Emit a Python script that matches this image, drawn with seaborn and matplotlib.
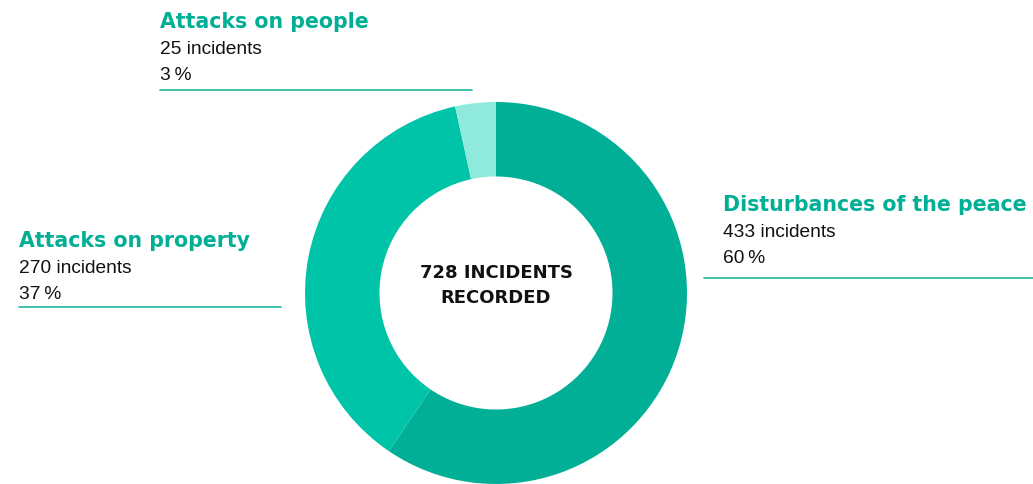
import matplotlib
matplotlib.use("Agg")
import matplotlib.pyplot as plt
from matplotlib.lines import Line2D
import seaborn as sns

# Incident categories and counts
categories = ["Disturbances of the peace", "Attacks on property", "Attacks on people"]
counts = [433, 270, 25]
percent_labels = ["60\u2009%", "37\u2009%", "3\u2009%"]
colors = ["#00AF95", "#00C4A8", "#8FE9DD"]
total_label = "728 INCIDENTS\nRECORDED"

sns.set_theme(style="white")
plt.rcParams["font.family"] = ["DejaVu Sans"]

W, H = 1033, 484
fig = plt.figure(figsize=(W / 100, H / 100), dpi=100)
fig.patch.set_facecolor("white")

# Donut placed in pixel space: centre (496, 293) from top-left, outer radius 191
cx, cy, r = 496, 293, 191
ax = fig.add_axes([(cx - r) / W, (H - cy - r) / H, 2 * r / W, 2 * r / H])
ax.pie(counts, colors=colors, startangle=90, counterclock=False, radius=1.0,
       wedgeprops=dict(width=0.39, linewidth=0))
ax.set_xlim(-1, 1)
ax.set_ylim(-1, 1)
ax.set_aspect("equal")
ax.axis("off")

ax.text(0, 0.04, total_label, ha="center", va="center", fontsize=13,
        fontweight="bold", color="#111111", linespacing=1.5,
        family="DejaVu Sans")

title_color = "#00AF95"
rule_color = "#1BB89E"
body_font = ["Liberation Sans", "DejaVu Sans"]


def fx(px):
    return px / W


def fy(py):
    return 1 - py / H


# Label blocks: (category index, x, title baseline y, rule y, rule x0, rule x1)
blocks = [
    (2, 160, 28, 90, 160, 472),
    (0, 723, 211, 278, 704, 1033),
    (1, 19, 247, 307, 19, 281),
]

for idx, x, ty, ry, x0, x1 in blocks:
    fig.text(fx(x), fy(ty), categories[idx], ha="left", va="baseline",
             fontsize=14.8, fontweight="bold", color=title_color,
             family="DejaVu Sans")
    fig.text(fx(x), fy(ty + 26), f"{counts[idx]} incidents", ha="left",
             va="baseline", fontsize=13.8, color="#111111", family=body_font)
    fig.text(fx(x), fy(ty + 52), percent_labels[idx], ha="left",
             va="baseline", fontsize=13.8, color="#111111", family=body_font)
    fig.add_artist(Line2D([fx(x0), fx(x1)], [fy(ry), fy(ry)],
                          transform=fig.transFigure, color=rule_color,
                          linewidth=1.2))

fig.savefig("out.png", dpi=100)
